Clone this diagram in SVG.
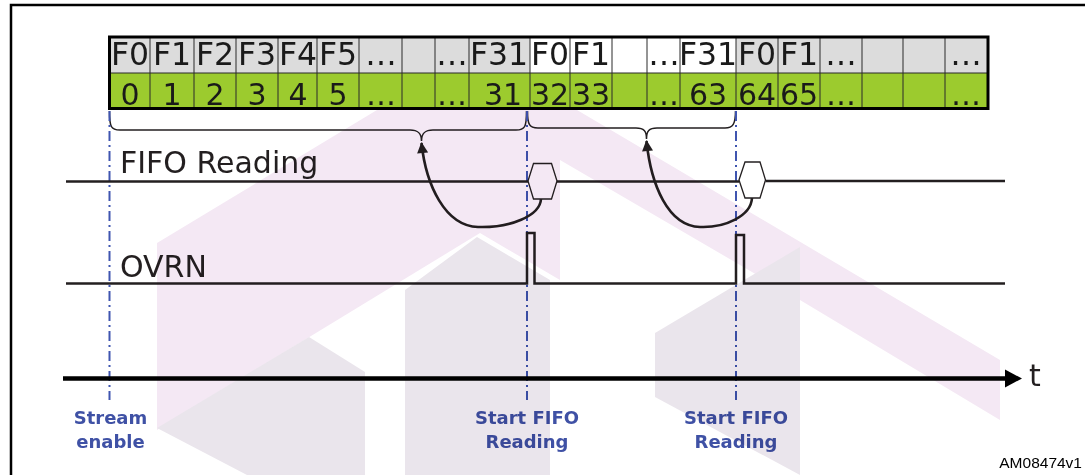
<svg xmlns="http://www.w3.org/2000/svg" width="1085" height="475" viewBox="0 0 1085 475">
<defs>
<style>
.cellg{fill:#dcdcdc}
.cellw{fill:#ffffff}
.cellv{fill:#9ccb2e}
.grid{stroke:#2a2a2a;stroke-width:1;fill:none}
.ct{font-family:"DejaVu Sans",Verdana,sans-serif;font-size:30px;fill:#1a1a1a;text-anchor:middle}
.ft{font-size:31.5px}
.lbl{font-family:"DejaVu Sans",Verdana,sans-serif;font-size:30px;fill:#231f20}
.blue{font-family:"DejaVu Sans",Verdana,sans-serif;font-size:18px;font-weight:bold;fill:#3f51a5;text-anchor:middle}
.sig{stroke:#231f20;stroke-width:2.5;fill:none}
.hex{stroke:#231f20;stroke-width:1.3;fill:#ffffff}
.brace{stroke:#231f20;stroke-width:1.5;fill:none}
.curve{stroke:#231f20;stroke-width:2.6;fill:none;marker-end:url(#ah)}
.vdash{stroke:#3f55b0;stroke-width:2;stroke-dasharray:10,4,2,4;fill:none}
.wm{mix-blend-mode:multiply}
</style>
<marker id="ah" viewBox="0 0 12 12" refX="11" refY="6" markerWidth="12" markerHeight="11" markerUnits="userSpaceOnUse" orient="auto">
<path d="M0,0 L12,6 L0,12 z" fill="#231f20"/>
</marker>
</defs>
<rect width="1085" height="475" fill="#ffffff"/>
<path d="M11,475 L11,5 L1085,5" stroke="#000" stroke-width="2.5" fill="none"/>

<g id="fifo-table">
<rect class="cellg" x="109" y="37" width="421" height="36"/>
<rect class="cellw" x="530" y="37" width="206" height="36"/>
<rect class="cellg" x="736" y="37" width="252" height="36"/>
<rect class="cellv" x="109" y="73" width="879" height="36"/>
<path class="grid" d="M109,73 H988 M150,37 V109 M194,37 V109 M236,37 V109 M278,37 V109 M317,37 V109 M359,37 V109 M402,37 V109 M435,37 V109 M469,37 V109 M530,37 V109 M570,37 V109 M612,37 V109 M647,37 V109 M680,37 V109 M736,37 V109 M778,37 V109 M820,37 V109 M862,37 V109 M903,37 V109 M945,37 V109"/>
<rect x="109.5" y="37" width="878.5" height="71.5" fill="none" stroke="#000" stroke-width="3"/>
<g class="ct">
<g class="ft">
<text x="130" y="65">F0</text><text x="172" y="65">F1</text><text x="215" y="65">F2</text><text x="257" y="65">F3</text><text x="298" y="65">F4</text><text x="338" y="65">F5</text><text x="381" y="65">…</text><text x="452" y="65">…</text><text x="499" y="65">F31</text>
<text x="550" y="65">F0</text><text x="591" y="65">F1</text><text x="664" y="65">…</text><text x="708" y="65">F31</text>
<text x="757" y="65">F0</text><text x="799" y="65">F1</text><text x="841" y="65">…</text><text x="966" y="65">…</text>
</g>
<text x="130" y="105">0</text><text x="172" y="105">1</text><text x="215" y="105">2</text><text x="257" y="105">3</text><text x="298" y="105">4</text><text x="338" y="105">5</text><text x="381" y="105">…</text><text x="452" y="105">…</text><text x="503" y="105">31</text>
<text x="550" y="105">32</text><text x="591" y="105">33</text><text x="664" y="105">…</text><text x="708" y="105">63</text>
<text x="757" y="105">64</text><text x="799" y="105">65</text><text x="841" y="105">…</text><text x="966" y="105">…</text>
</g>
</g>

<g id="braces">
<path class="brace" d="M109.5,111 C109.5,127 111,130 120,130 L410,130 C418,130 421.5,133 421.5,141 C421.5,133 425,130 433,130 L516,130 C525,130 526.5,127 526.5,111"/>
<path class="brace" d="M527.5,111 C527.5,124 529,128 538,128 L636,128 C644,128 646.5,131 646.5,139 C646.5,131 649,128 657,128 L725,128 C733,128 735.5,124 735.5,111"/>
</g>

<g id="guides">
<path class="vdash" d="M109.5,111 V400"/>
<path class="vdash" d="M527,111 V400"/>
<path class="vdash" d="M736,111 V400"/>
</g>

<g id="fifo-reading">
<text class="lbl" x="120" y="173">FIFO Reading</text>
<path class="sig" d="M66,181.5 H528 M557,181.5 H739 M765.5,181 H1005"/>
<polygon class="hex" points="528,181 533.5,163.5 551.5,163.5 557,181 551.5,199 533.5,199"/>
<polygon class="hex" points="739,180 745,162 760,162 765.5,180 760,198 745,198"/>
</g>

<g id="ovrn">
<text class="lbl" x="120" y="277">OVRN</text>
<path class="sig" d="M66,283.5 H527 V233 H534.5 V283.5 H736 V235 H744 V283.5 H1005"/>
</g>

<g id="connectors">
<path class="curve" d="M541,199 C540,216 510,228 478,227 C445,226 426,185 421.5,143"/>
<path class="curve" d="M752,198 C751,216 725,228 700,227 C668,226 651,185 646.5,141"/>
</g>

<g id="time-axis">
<path d="M63,378.5 H1008" stroke="#000" stroke-width="4.5"/>
<polygon points="1005,369.5 1022,378.5 1005,387.5" fill="#000"/>
<text class="lbl" x="1029" y="386">t</text>
</g>

<g id="stream-enable"><text class="blue" x="110.5" y="424">Stream</text><text class="blue" x="110.5" y="448">enable</text></g>
<g id="start-fifo-1"><text class="blue" x="527" y="424">Start FIFO</text><text class="blue" x="527" y="448">Reading</text></g>
<g id="start-fifo-2"><text class="blue" x="736" y="424">Start FIFO</text><text class="blue" x="736" y="448">Reading</text></g>

<text x="1082" y="468" font-family="'Liberation Sans',Arial,sans-serif" font-size="15.5" fill="#000" text-anchor="end">AM08474v1</text>

<g id="watermark" class="wm">
<polygon fill="#f4e8f4" points="157,243 377,110 480,110 480,233 157,430"/>
<polygon fill="#f4e8f4" points="480,110 577,110 1000,360 1000,420 800,300 560,160 560,280 480,233"/>
<polygon fill="#eae5ec" points="157,428 309,337 365,372 365,475 247,475"/>
<polygon fill="#eae5ec" points="405,290 477,237 550,280 550,475 405,475"/>
<polygon fill="#eae5ec" points="655,333 800,247 800,475 655,397"/>
</g>
</svg>
